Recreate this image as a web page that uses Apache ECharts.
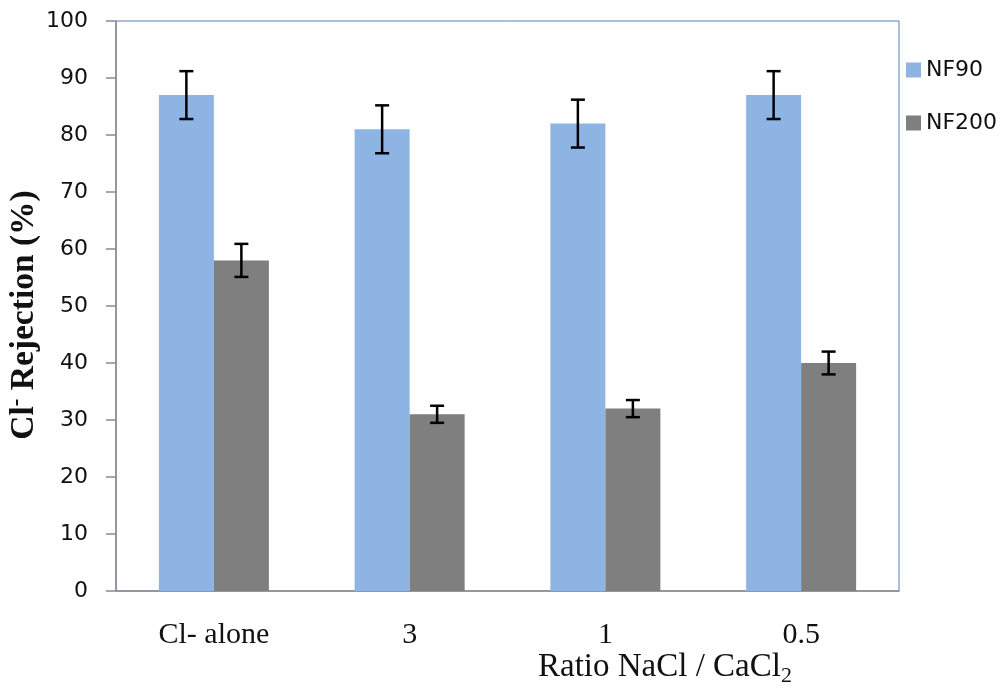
<!DOCTYPE html>
<html><head><meta charset="utf-8">
<script src="https://cdn.jsdelivr.net/npm/echarts@6/dist/echarts.min.js"></script>
<style>html,body{margin:0;padding:0;background:#fff}#c{width:1007px;height:689px}</style>
</head><body><div id="c"></div>
<script>
const categories = ['Cl- alone', '3', '1', '0.5'];
const nf90 = [87, 81, 82, 87];
const nf90Err = [4.2, 4.2, 4.2, 4.2];
const nf200 = [58, 31, 32, 40];
const nf200Err = [2.9, 1.5, 1.5, 2.0];
const yTicks = [0, 10, 20, 30, 40, 50, 60, 70, 80, 90, 100];

const chart = echarts.init(document.getElementById('c'));
const BAR_W = 55;

function errSeries(vals, errs, idx) {
  return {
    type: 'custom',
    z: 10,
    data: vals.map((v, i) => [i, v - errs[i], v + errs[i]]),
    renderItem: function (params, api) {
      const ci = api.value(0);
      const lo = api.coord([ci, api.value(1)]);
      const hi = api.coord([ci, api.value(2)]);
      const x = lo[0] + (idx === 0 ? -BAR_W / 2 : BAR_W / 2);
      const cap = 7;
      const st = { stroke: '#000', lineWidth: 2.5 };
      return { type: 'group', children: [
        { type: 'line', shape: { x1: x, y1: lo[1], x2: x, y2: hi[1] }, style: st },
        { type: 'line', shape: { x1: x - cap, y1: hi[1], x2: x + cap, y2: hi[1] }, style: st },
        { type: 'line', shape: { x1: x - cap, y1: lo[1], x2: x + cap, y2: lo[1] }, style: st }
      ]};
    }
  };
}

chart.setOption({
  animation: false,
  grid: { left: 116, right: 108, top: 21, bottom: 98, show: true, borderColor: '#4F81BD', borderWidth: 1, backgroundColor: 'transparent', containLabel: false, outerBoundsMode: 'none' },
  legend: {
    orient: 'vertical', left: 901, top: 54, itemWidth: 15, itemHeight: 15, itemGap: 31,
    icon: 'rect',
    textStyle: { fontFamily: 'DejaVu Sans', fontSize: 22, color: '#111' },
    data: ['NF90', 'NF200']
  },
  title: {
    text: '{a|Ratio NaCl / CaCl}{s|2}',
    left: 533, top: 643,
    textStyle: { fontWeight: 'normal', rich: {
      a: { fontFamily: 'Liberation Serif', fontSize: 33, color: '#111', fontWeight: 'normal' },
      s: { fontFamily: 'Liberation Serif', fontSize: 22, color: '#111', fontWeight: 'normal', padding: [17, 0, 0, 0] }
    } }
  },
  xAxis: {
    type: 'category', data: categories,
    axisLine: { lineStyle: { color: '#8c8c8c', width: 1.5 } },
    axisTick: { length: 10, lineStyle: { color: '#8c8c8c', width: 1.5 } },
    axisLabel: { fontFamily: 'Liberation Serif', fontSize: 30, color: '#111', margin: 29 }
  },
  yAxis: {
    type: 'value', min: 0, max: 100, interval: 10,
    name: '{a|Cl}{s|-}{a| Rejection (%)}',
    nameLocation: 'middle', nameGap: 73, nameRotate: 90, nameMoveOverlap: false,
    nameTextStyle: { padding: [0, 18, 0, 0], rich: {
      a: { fontFamily: 'Liberation Serif', fontSize: 33.5, fontWeight: 'bold', color: '#111' },
      s: { fontFamily: 'Liberation Serif', fontSize: 23, fontWeight: 'bold', color: '#111', padding: [0, 0, 14, 0] }
    } },
    axisLine: { show: true, lineStyle: { color: '#8c8c8c', width: 1.5 } },
    axisTick: { show: true, length: 10, lineStyle: { color: '#8c8c8c', width: 1.5 } },
    splitLine: { show: false },
    axisLabel: { fontFamily: 'DejaVu Sans', fontSize: 22, color: '#111', margin: 28,
      formatter: v => yTicks.includes(v) ? String(v) : '' }
  },
  series: [
    { name: 'NF90', type: 'bar', data: nf90, barWidth: BAR_W, barGap: '0%', itemStyle: { color: '#8EB4E3' } },
    { name: 'NF200', type: 'bar', data: nf200, barWidth: BAR_W, barGap: '0%', itemStyle: { color: '#7F7F7F' } },
    errSeries(nf90, nf90Err, 0),
    errSeries(nf200, nf200Err, 1)
  ]
});
</script></body></html>
